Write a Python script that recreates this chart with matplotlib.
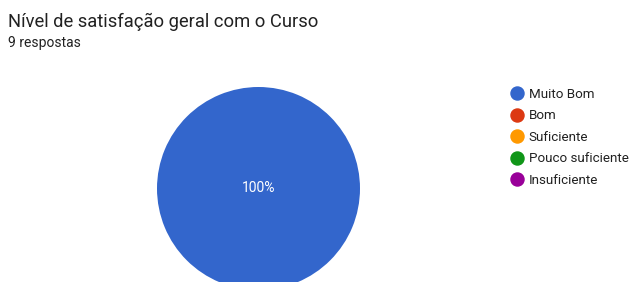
import matplotlib
matplotlib.use("Agg")
import matplotlib.pyplot as plt
from matplotlib.lines import Line2D

title = "Nível de satisfação geral com o Curso"
subtitle = "9 respostas"
categories = ["Muito Bom", "Bom", "Suficiente", "Pouco suficiente", "Insuficiente"]
values = [9, 0, 0, 0, 0]
colors = ["#3366CC", "#DC3912", "#FF9900", "#109618", "#990099"]

plt.rcParams['font.family'] = ['Roboto', 'DejaVu Sans']

W, H = 631, 282
fig = plt.figure(figsize=(W/100, H/100), dpi=100)

# pie axes: bounding box in pixels (left, top, size)
pl, pt, ps = 157, 87, 203
ax = fig.add_axes([pl/W, (H - pt - ps)/H, ps/W, ps/H])
wedges, texts, autotexts = ax.pie(
    values, colors=colors, startangle=90, counterclock=False,
    radius=1, center=(0, 0),
    autopct=lambda p: f"{p:.0f}%" if p > 0 else "",
    pctdistance=0.0,
    wedgeprops=dict(linewidth=0),
    textprops=dict(color="white", fontsize=10),
)
ax.set_xlim(-1, 1)
ax.set_ylim(-1, 1)
ax.set_aspect("equal")
ax.axis("off")

fig.text(8/W, 1 - 27/H, title, fontsize=13.2, color="#212121", va="baseline", ha="left")
fig.text(8/W, 1 - 47/H, subtitle, fontsize=10, color="#212121", va="baseline", ha="left")

handles = [Line2D([0], [0], marker="o", linestyle="", markersize=9.4,
                  markerfacecolor=c, markeredgecolor=c) for c in colors]
leg = fig.legend(handles, categories, loc="upper left",
                 bbox_to_anchor=(508/W, 1 - 88/H), frameon=False,
                 fontsize=9.6, labelspacing=0.63, handletextpad=0.15,
                 handlelength=1.4, borderaxespad=0, borderpad=0)
for t in leg.get_texts():
    t.set_color("#212121")

fig.savefig("out.png", dpi=100, facecolor="white")
